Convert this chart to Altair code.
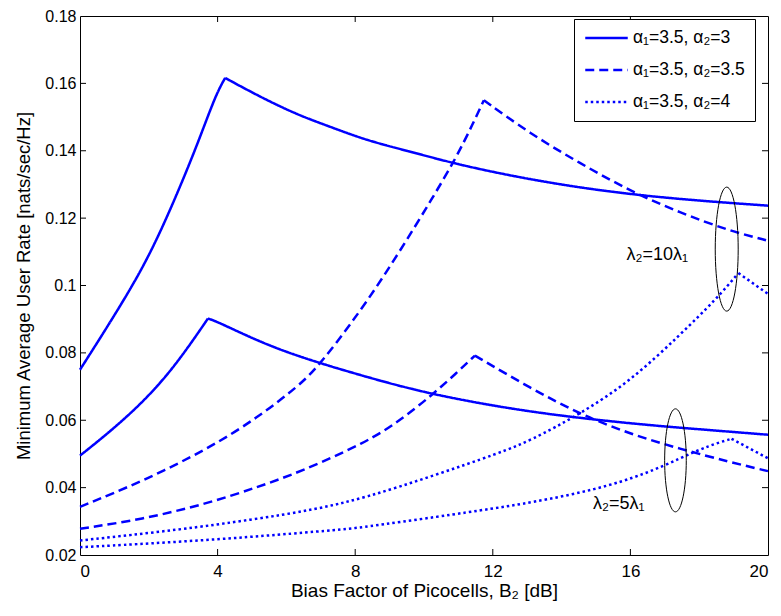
import altair as alt
import pandas as pd

X_TICKS = [0, 4, 8, 12, 16, 20]
Y_TICKS = [0.02, 0.04, 0.06, 0.08, 0.10, 0.12, 0.14, 0.16, 0.18]

SERIES = ["α₁=3.5, α₂=3", "α₁=3.5, α₂=3.5", "α₁=3.5, α₂=4"]
DENSITY = ["λ₂=10λ₁", "λ₂=5λ₁"]

# alpha2 = 3, lambda2 = 10 lambda1 (solid, upper)
A_X = [0, 0.8, 1.8, 2.5, 3.1, 3.5, 3.96, 4.22, 5.0, 5.66, 6.4, 7.3, 8.33, 9.5, 10.85, 12.0, 13.1, 14.5, 16.0, 17.5, 18.9, 20]
A_Y = [0.075, 0.0878, 0.1045, 0.1195, 0.134, 0.1443, 0.1569, 0.1616, 0.1573, 0.1539, 0.1504, 0.147, 0.1431, 0.14, 0.1363, 0.1337, 0.1315, 0.1291, 0.1271, 0.1256, 0.1245, 0.1237]
# alpha2 = 3, lambda2 = 5 lambda1 (solid, lower)
B_X = [0, 0.8, 1.8, 2.75, 3.72, 3.96, 5.17, 6.4, 8.33, 10.26, 13.1, 16.0, 17.9, 20]
B_Y = [0.0495, 0.056, 0.065, 0.0758, 0.0902, 0.0894, 0.0835, 0.0787, 0.0728, 0.0675, 0.0623, 0.059, 0.0574, 0.0557]
# alpha2 = 3.5, lambda2 = 10 lambda1 (dashed, upper)
C_X = [0, 1.78, 3.72, 5.17, 6.39, 6.82, 7.35, 8.33, 9.29, 10.26, 10.94, 11.43, 11.74, 13.08, 14.53, 16.0, 17.44, 18.89, 20]
C_Y = [0.0343, 0.0417, 0.0515, 0.0608, 0.0705, 0.075, 0.0815, 0.095, 0.11, 0.1262, 0.138, 0.1482, 0.155, 0.1451, 0.1363, 0.128, 0.1216, 0.1162, 0.1133]
# alpha2 = 3.5, lambda2 = 5 lambda1 (dashed, lower)
D_X = [0, 1.78, 3.72, 5.17, 6.39, 8.33, 9.29, 10.26, 10.94, 11.48, 13.08, 14.53, 16.0, 17.44, 18.89, 20]
D_Y = [0.0278, 0.0305, 0.0353, 0.0402, 0.0446, 0.0535, 0.0598, 0.0677, 0.074, 0.0792, 0.0696, 0.0618, 0.0559, 0.0515, 0.0476, 0.0449]
# alpha2 = 4, lambda2 = 10 lambda1 (dotted, upper)
E_X = [0, 2.9, 5.0, 6.8, 8.33, 10.26, 12.2, 13.1, 14.53, 16.0, 17.44, 18.51, 19.14, 20]
E_Y = [0.0243, 0.0275, 0.0305, 0.0334, 0.0371, 0.0435, 0.0503, 0.054, 0.0618, 0.0716, 0.0853, 0.0961, 0.1037, 0.0975]
# alpha2 = 4, lambda2 = 5 lambda1 (dotted, lower)
F_X = [0, 4.0, 7.65, 8.13, 10.5, 12.0, 13.08, 15.02, 16.47, 17.44, 18.31, 18.94, 20]
F_Y = [0.0223, 0.0245, 0.0276, 0.0281, 0.0315, 0.0338, 0.0355, 0.0394, 0.0442, 0.0487, 0.0526, 0.0545, 0.0487]

ANNOT_X = [16.78, 15.66]
ANNOT_Y = [0.1092, 0.0350]
ELLIPSE_X = [18.8, 17.31]
ELLIPSE_Y = [0.1108, 0.0481]

curves = [
    (SERIES[0], DENSITY[0], A_X, A_Y),
    (SERIES[0], DENSITY[1], B_X, B_Y),
    (SERIES[1], DENSITY[0], C_X, C_Y),
    (SERIES[1], DENSITY[1], D_X, D_Y),
    (SERIES[2], DENSITY[0], E_X, E_Y),
    (SERIES[2], DENSITY[1], F_X, F_Y),
]
rows = []
for s, d, xs, ys in curves:
    peak = ys.index(max(ys))
    for i, (x, y) in enumerate(zip(xs, ys)):
        if i <= peak:
            rows.append({"series": s, "seg": s + d + " rise", "x": x, "y": y, "order": i})
        if i >= peak:
            rows.append({"series": s, "seg": s + d + " fall", "x": x, "y": y, "order": i})
df = pd.DataFrame(rows)

annot = pd.DataFrame({"x": ANNOT_X, "y": ANNOT_Y, "label": DENSITY})
ell1 = pd.DataFrame({"x": ELLIPSE_X[:1], "y": ELLIPSE_Y[:1]})
ell2 = pd.DataFrame({"x": ELLIPSE_X[1:], "y": ELLIPSE_Y[1:]})
xt = pd.DataFrame({"v": X_TICKS[1:-1]})
yt = pd.DataFrame({"v": Y_TICKS[1:-1]})

W, H = 688, 539
TICK = 6
FONT = "Liberation Sans"
BLUE = "#0000ff"

xscale = alt.Scale(domain=[0, 20], nice=False, zero=False)
yscale = alt.Scale(domain=[0.02, 0.18], nice=False, zero=False)

main_x_axis = alt.Axis(
    values=X_TICKS, format="d", orient="bottom", ticks=False, domain=False, grid=False,
    labelPadding=8, labelFontSize=17, labelFont=FONT, labelColor="black",
    title="Bias Factor of Picocells,  B₂ [dB]", titleFont=FONT, titleFontSize=19,
    titleFontWeight="normal", titleColor="black", titleBaseline="alphabetic", titleY=41,
)
main_y_axis = alt.Axis(
    values=Y_TICKS, format=".2~f", orient="left", ticks=False, domain=False, grid=False,
    labelPadding=4, labelFontSize=16, labelFont=FONT, labelColor="black",
    title="Minimum Average User Rate [nats/sec/Hz]", titleFont=FONT, titleFontSize=18.5,
    titleFontWeight="normal", titleColor="black", titlePadding=11,
)

lines = alt.Chart(df).mark_line(strokeWidth=2.5, color=BLUE, interpolate="basis").encode(
    x=alt.X("x:Q", scale=xscale, axis=main_x_axis),
    y=alt.Y("y:Q", scale=yscale, axis=main_y_axis),
    strokeDash=alt.StrokeDash(
        "series:N",
        scale=alt.Scale(domain=SERIES, range=[[1, 0], [9, 5], [2.5, 3]]),
        legend=alt.Legend(
            title=None, orient="none", legendX=494, legendY=3,
            strokeColor="black", fillColor="white", padding=10, cornerRadius=0,
            symbolType="stroke", symbolSize=1806, symbolStrokeWidth=2.5,
            symbolStrokeColor=BLUE, clipHeight=18, rowPadding=14, labelOffset=4,
            labelFont=FONT, labelFontSize=17.5, labelColor="black",
        ),
    ),
    detail="seg:N",
    order="order:Q",
)

tick_style = dict(color="black", strokeWidth=1)
ticks_bottom = alt.Chart(xt).mark_rule(**tick_style).encode(
    x=alt.X("v:Q", scale=xscale, axis=None), y=alt.value(H), y2=alt.value(H - TICK))
ticks_top = alt.Chart(xt).mark_rule(**tick_style).encode(
    x=alt.X("v:Q", scale=xscale, axis=None), y=alt.value(0), y2=alt.value(TICK))
ticks_left = alt.Chart(yt).mark_rule(**tick_style).encode(
    y=alt.Y("v:Q", scale=yscale, axis=None), x=alt.value(0), x2=alt.value(TICK))
ticks_right = alt.Chart(yt).mark_rule(**tick_style).encode(
    y=alt.Y("v:Q", scale=yscale, axis=None), x=alt.value(W), x2=alt.value(W - TICK))

text = alt.Chart(annot).mark_text(font=FONT, fontSize=18, color="black", align="center", baseline="middle").encode(
    x=alt.X("x:Q", scale=xscale, axis=None),
    y=alt.Y("y:Q", scale=yscale, axis=None),
    text="label:N",
)

ELL1 = "M0,-1A0.185,1 0 1,1 0,1A0.185,1 0 1,1 0,-1Z"
ELL2 = "M0,-1A0.21,1 0 1,1 0,1A0.21,1 0 1,1 0,-1Z"
e1 = alt.Chart(ell1).mark_point(shape=ELL1, size=124 * 124, filled=False, stroke="black", strokeWidth=1, opacity=1).encode(
    x=alt.X("x:Q", scale=xscale, axis=None),
    y=alt.Y("y:Q", scale=yscale, axis=None),
)
e2 = alt.Chart(ell2).mark_point(shape=ELL2, size=103 * 103, filled=False, stroke="black", strokeWidth=1, opacity=1).encode(
    x=alt.X("x:Q", scale=xscale, axis=None),
    y=alt.Y("y:Q", scale=yscale, axis=None),
)

chart = alt.layer(lines, ticks_bottom, ticks_top, ticks_left, ticks_right, e1, e2, text).resolve_axis(
    x="independent", y="independent"
).properties(
    width=W, height=H,
    padding={"left": 72, "top": 8, "right": 5, "bottom": 53},
    autosize=alt.AutoSizeParams(type="none"),
    background="white",
).configure_view(stroke="black", strokeWidth=1)

chart.save("out.html", embed_options={"renderer": "svg", "actions": False})
